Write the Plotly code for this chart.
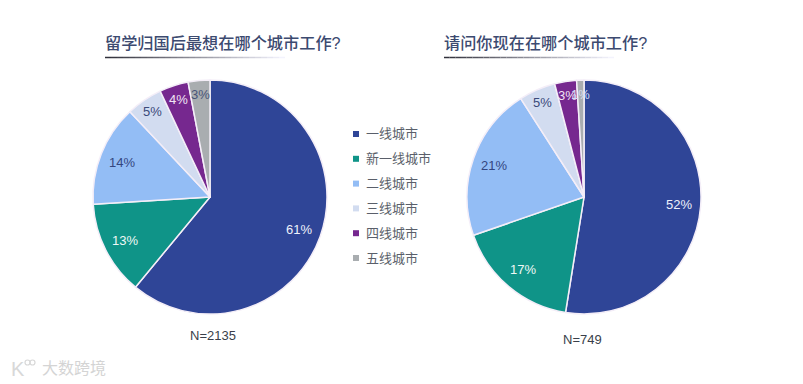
import math
import plotly.graph_objects as go

categories = ["一线城市", "新一线城市", "二线城市", "三线城市", "四线城市", "五线城市"]
colors = ["#2f4597", "#0f9488", "#93bdf5", "#d2dcf0", "#76288f", "#a9adb0"]
values_left = [61, 13, 14, 5, 4, 3]
values_right = [52, 17, 21, 5, 3, 1]
text_left = ["61%", "13%", "14%", "5%", "4%", "3%"]
text_right = ["52%", "17%", "21%", "5%", "3%", "1%"]
text_colors_left = ["#eef1fb", "#eef8f6", "#33467f", "#3a4a7a", "#f0e4f5", "#4a5578"]
text_colors_right = ["#eef1fb", "#eef8f6", "#33467f", "#3a4a7a", "#f0e4f5", "#d5dcf5"]
title_left = "留学归国后最想在哪个城市工作?"
title_right = "请问你现在在哪个城市工作?"
note_left = "N=2135"
note_right = "N=749"
watermark = "大数跨境"

W, H = 803, 384
FONT = "Liberation Sans, Noto Sans CJK SC, sans-serif"
R = 117


def pie(values, cx, cy):
    return go.Pie(
        labels=categories, values=values, sort=False,
        direction="clockwise", rotation=0, textinfo="none",
        marker=dict(colors=colors, line=dict(color="#f4eef8", width=1.5)),
        domain=dict(x=[(cx - R) / W, (cx + R) / W],
                    y=[1 - (cy + R) / H, 1 - (cy - R) / H]),
        showlegend=False, hoverinfo="label+percent",
    )


CL, CR = (210, 197), (584, 197)
fig = go.Figure([pie(values_left, *CL), pie(values_right, *CR)])

ann = []
shapes = []


def px_text(x, y, s, size, color, anchor="left", weight=None):
    f = dict(family=FONT, size=size, color=color)
    if weight:
        f["weight"] = weight
    ann.append(dict(x=x / W, y=1 - y / H, xref="paper", yref="paper", text=s,
                    showarrow=False, xanchor=anchor, yanchor="middle", font=f))


def slice_labels(values, texts, tcolors, center):
    total = sum(values)
    cum = 0
    for v, t, c in zip(values, texts, tcolors):
        a = 2 * math.pi * (cum + v / 2) / total
        cum += v
        r = 95 if v >= 13 else 103
        px_text(center[0] + r * math.sin(a), center[1] - r * math.cos(a), t, 13, c, "center")


slice_labels(values_left, text_left, text_colors_left, CL)
slice_labels(values_right, text_right, text_colors_right, CR)

px_text(103, 43, title_left, 16.2, "#3c4a70", weight=500)
px_text(442, 43, title_right, 16.2, "#3c4a70", weight=500)
px_text(213, 335, note_left, 13, "#3a3f4a", "center")
px_text(582, 339, note_right, 13, "#3a3f4a", "center")
px_text(40, 368, watermark, 16, "#d4d4d4")

# title rules fading to the right
for x0, length in ((105, 180), (444, 170)):
    n = 30
    for i in range(n):
        g = int(50 + 200 * i / n)
        shapes.append(dict(type="line", xref="paper", yref="paper",
                           x0=(x0 + length * i / n) / W,
                           x1=(x0 + length * (i + 1) / n) / W,
                           y0=1 - 57.5 / H, y1=1 - 57.5 / H,
                           line=dict(color=f"rgb({g},{g},{min(g+10,255)})", width=1.5)))

# legend
for i, (c, col) in enumerate(zip(categories, colors)):
    y = 134 + i * 24.8
    shapes.append(dict(type="rect", xref="paper", yref="paper",
                       x0=353 / W, x1=359 / W, y0=1 - (y + 3) / H, y1=1 - (y - 3) / H,
                       fillcolor=col, line=dict(width=0)))
    px_text(364, y, c, 13, "#5a5f6a")

# watermark logo
for x0 in (25, 30):
    shapes.append(dict(type="circle", xref="paper", yref="paper",
                       x0=x0 / W, x1=(x0 + 5) / W, y0=1 - 365 / H, y1=1 - 360 / H,
                       line=dict(color="#d8d8d8", width=1.2)))
px_text(9, 369, "K", 20, "#d8d8d8")

fig.update_layout(width=W, height=H, margin=dict(l=0, r=0, t=0, b=0),
                  paper_bgcolor="#ffffff", plot_bgcolor="#ffffff",
                  annotations=ann, shapes=shapes, font=dict(family=FONT))
fig.write_html("out.html", config=dict(displayModeBar=False),
               post_script="document.body.style.margin='0';document.body.style.overflow='hidden';")
